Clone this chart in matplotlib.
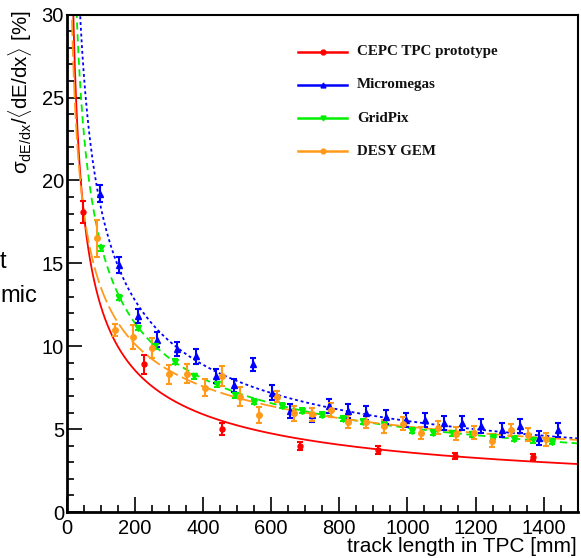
import numpy as np
import matplotlib
matplotlib.use("Agg")
import matplotlib.pyplot as plt
from matplotlib.lines import Line2D
from matplotlib.ticker import MultipleLocator

plt.rcParams["font.family"] = ["Liberation Sans", "DejaVu Sans"]
plt.rcParams["mathtext.fontset"] = "custom"
plt.rcParams["mathtext.rm"] = "Liberation Sans"
plt.rcParams["mathtext.it"] = "Liberation Sans:italic"

# measured dE/dx resolution vs. track length
cepc_len = [47, 227, 456, 685, 914, 1141, 1369]
cepc_res = [18.1, 8.9, 5.0, 4.0, 3.72, 3.38, 3.32]
cepc_err = [0.65, 0.6, 0.35, 0.25, 0.25, 0.2, 0.2]

mm_len = [98, 153, 208, 265, 323, 379, 437, 492, 548, 602, 656, 719, 771,
          826, 880, 938, 997, 1051, 1108, 1161, 1217, 1277, 1331, 1386, 1443]
mm_res = [19.2, 14.9, 11.8, 10.4, 9.85, 9.4, 8.2, 7.65, 8.9, 7.2, 6.1, 5.85,
          6.38, 6.07, 5.95, 5.75, 5.55, 5.53, 5.39, 5.39, 5.2, 4.92, 5.2, 4.48, 4.95]
mm_err = [0.5, 0.47, 0.42, 0.45, 0.43, 0.45, 0.43, 0.4, 0.4, 0.45, 0.44, 0.4, 0.42,
          0.42, 0.42, 0.42, 0.42, 0.42, 0.42, 0.42, 0.42, 0.42, 0.42, 0.42, 0.42]

gp_len = [100, 154, 208, 260, 317, 375, 441, 495, 551, 632, 690, 750, 810, 870,
          930, 1013, 1075, 1130, 1190, 1250, 1312, 1370, 1424]
gp_res = [15.9, 12.93, 11.1, 10.0, 9.05, 8.2, 7.7, 7.05, 6.65, 6.42, 6.12, 5.87,
          5.64, 5.45, 5.27, 4.9, 4.78, 4.76, 4.68, 4.54, 4.42, 4.33, 4.24]
gp_err = [0.15] * len(gp_len)

gem_len = [88, 143, 195, 249, 299, 353, 407, 456, 509, 564, 616, 667, 720, 775,
           827, 880, 931, 986, 1039, 1090, 1142, 1196, 1248, 1303, 1354, 1406]
gem_res = [16.5, 11.0, 10.55, 9.9, 8.3, 8.35, 7.5, 8.2, 6.95, 5.85, 6.95, 5.95,
           5.9, 6.15, 5.45, 5.45, 5.18, 5.32, 4.76, 5.08, 4.72, 4.78, 4.3, 4.95, 4.67, 4.38]
gem_err = [1.1, 0.37, 0.73, 0.6, 0.55, 0.58, 0.5, 0.58, 0.57, 0.48, 0.34, 0.47, 0.4,
           0.4, 0.4, 0.4, 0.4, 0.4, 0.38, 0.38, 0.38, 0.38, 0.38, 0.38, 0.38, 0.38]

# power-law fits  res = A * L^-b
fit_pars = {
    "cepc": (148.0, 0.538),
    "mm": (206.4, 0.525),
    "gp": (163.9, 0.503),
    "gem": (93.8, 0.42),
}

RED, BLUE, GREEN, ORANGE = "#ff0000", "#0000ff", "#00f000", "#ff9a1a"

series = [
    ("CEPC TPC prototype", cepc_len, cepc_res, cepc_err, RED, "o", 3.6, "cepc", "-"),
    ("Micromegas", mm_len, mm_res, mm_err, BLUE, "^", 4.0, "mm", (0, (1.6, 1.6))),
    ("GridPix", gp_len, gp_res, gp_err, GREEN, "v", 4.2, "gp", (0, (4, 2.5))),
    ("DESY GEM", gem_len, gem_res, gem_err, ORANGE, "o", 4.0, "gem", (0, (9, 2.5))),
]

fig = plt.figure(figsize=(5.81, 5.58), dpi=100)
ax = fig.add_axes([66.7 / 581, 1 - 512 / 558, (577.7 - 66.7) / 581, (512 - 14.7) / 558])

L = np.linspace(3, 1500, 2000)
for name, x, y, e, col, mk, ms, key, ls in series:
    A, b = fit_pars[key]
    ax.plot(L, A * L ** (-b), color=col, lw=1.3, ls=ls, zorder=2)
    ax.errorbar(x, y, yerr=e, fmt=mk, color=col, ms=ms, elinewidth=1.5,
                capsize=2.2, capthick=1.5, zorder=3)

ax.set_xlim(0, 1500)
ax.set_ylim(0, 30)
ax.xaxis.set_major_locator(MultipleLocator(200))
ax.xaxis.set_minor_locator(MultipleLocator(50))
ax.yaxis.set_major_locator(MultipleLocator(5))
ax.yaxis.set_minor_locator(MultipleLocator(1))
ax.set_xticks([0, 200, 400, 600, 800, 1000, 1200, 1400])
ax.tick_params(which="both", direction="in", top=False, right=False, width=1.2,
               labelsize=14.5, colors="black")
ax.tick_params(which="major", length=10.5)
ax.tick_params(which="minor", length=5.2)
ax.tick_params(axis="x", pad=5)
ax.tick_params(axis="y", pad=2)
for s in ["left", "bottom"]:
    ax.spines[s].set_linewidth(2.0)
for s in ["top", "right"]:
    ax.spines[s].set_linewidth(1.5)

fig.text(577 / 581, 1 - 546 / 558, "track length in TPC [mm]", ha="right", va="center",
         fontsize=15)
fig.text(20 / 581, 1 - 11 / 558, r"$\mathrm{σ}_{\mathrm{dE/dx}}/\langle\mathrm{dE/dx}\rangle$ [%]",
         rotation=90, ha="center", va="top", fontsize=14.8)

# legend, drawn by hand
for i, (name, x, y, e, col, mk, ms, key, ls) in enumerate(series):
    yy = 1 - (52 + 33 * i) / 558
    fig.add_artist(Line2D([298 / 581, 347 / 581], [yy, yy], color=col, lw=1.8,
                          transform=fig.transFigure))
    fig.add_artist(Line2D([322.5 / 581], [yy], color=col, marker=mk, ms=3.5,
                          transform=fig.transFigure))
    fig.text(357 / 581, yy, name, ha="left", va="center", fontsize=10.8,
             family="Liberation Serif", weight="bold", color="#111111")

# leftover slide text at the left edge
fig.text(0, 1 - 262 / 558, "t", ha="left", va="center", fontsize=17)
fig.text(0, 1 - 296 / 558, "mic", ha="left", va="center", fontsize=17)

fig.savefig("out.png", dpi=100)
